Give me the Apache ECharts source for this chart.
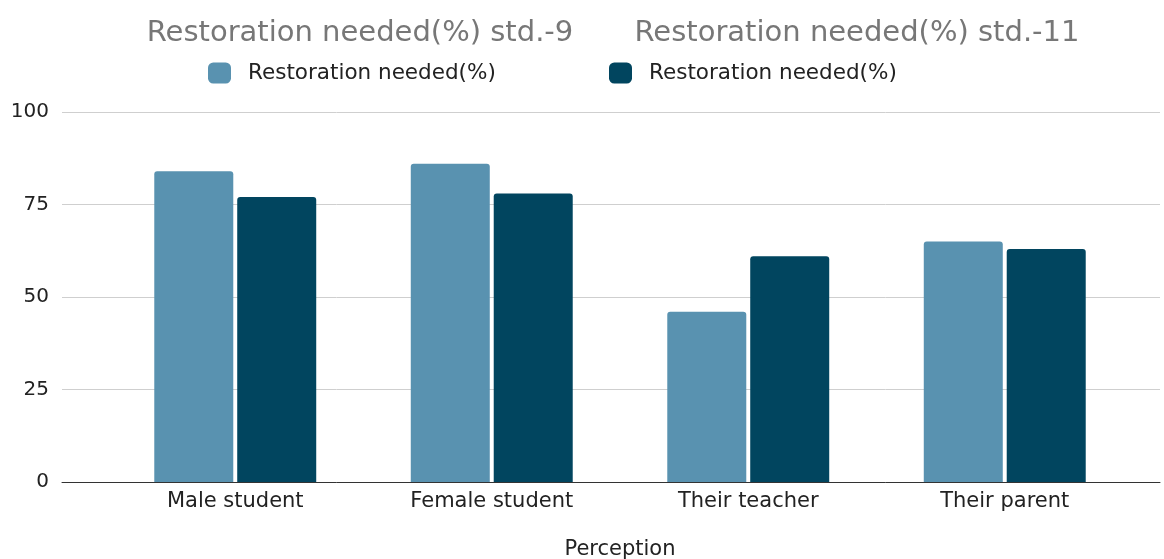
<!DOCTYPE html>
<html><head><meta charset="utf-8">
<script src="https://cdn.jsdelivr.net/npm/echarts@6/dist/echarts.min.js"></script>
<style>html,body{margin:0;padding:0;background:#fff}#c{width:1164px;height:559px}</style>
</head><body><div id="c"></div>
<script>
const categories = ['Male student', 'Female student', 'Their teacher', 'Their parent'];
const std9 = [84, 86, 46, 65];
const std11 = [77, 78, 61, 63];
const yTicks = [0, 25, 50, 75, 100];
const titles = ['Restoration needed(%) std.-9', 'Restoration needed(%) std.-11'];
const seriesNames = ['Restoration needed(%)', 'Restoration needed(%) '];
const axisName = 'Perception';

const FONT = 'DejaVu Sans';
const chart = echarts.init(document.getElementById('c'), null, {renderer: 'canvas'});
chart.setOption({
  animation: false,
  backgroundColor: '#fff',
  title: [
    {text: titles[0], left: 355, top: 14, textAlign: 'center',
     textStyle: {fontFamily: FONT, fontSize: 29, fontWeight: 'normal', color: '#777'}},
    {text: titles[1], left: 852, top: 14, textAlign: 'center',
     textStyle: {fontFamily: FONT, fontSize: 29, fontWeight: 'normal', color: '#777'}}
  ],
  legend: [
    {data: [seriesNames[0]], left: 203, top: 57, itemWidth: 23, itemHeight: 21,
     icon: 'roundRect',
     textStyle: {fontFamily: FONT, fontSize: 21.5, color: '#222', padding: [0, 0, 0, 12]}},
    {data: [seriesNames[1]], left: 604, top: 57, itemWidth: 23, itemHeight: 21,
     icon: 'roundRect',
     textStyle: {fontFamily: FONT, fontSize: 21.5, color: '#222', padding: [0, 0, 0, 12]}}
  ],
  grid: [
    {left: 62, right: 4, top: 112, bottom: 77, containLabel: false, outerBoundsMode: 'none'},
    {left: 107, right: 31, top: 112, bottom: 77, containLabel: false, outerBoundsMode: 'none'}
  ],
  xAxis: [
    {gridIndex: 0, type: 'value', min: 0, max: 1,
     axisLine: {show: true, lineStyle: {color: '#333', width: 1}},
     axisTick: {show: false}, axisLabel: {show: false}, splitLine: {show: false}},
    {gridIndex: 1, type: 'category', data: categories,
     axisLine: {show: false}, axisTick: {show: false},
     axisLabel: {fontFamily: FONT, fontSize: 21, color: '#222', margin: 9},
     name: axisName, nameLocation: 'middle', nameGap: 57,
     nameTextStyle: {fontFamily: FONT, fontSize: 21, color: '#222'}}
  ],
  yAxis: [
    {gridIndex: 0, type: 'value', min: yTicks[0], max: yTicks[yTicks.length - 1], interval: 25,
     axisLine: {show: false}, axisTick: {show: false},
     axisLabel: {fontFamily: FONT, fontSize: 20, color: '#222', margin: 13},
     splitLine: {lineStyle: {color: '#cfcfcf', width: 1}}},
    {gridIndex: 1, type: 'value', min: 0, max: 100, show: false}
  ],
  series: [
    {name: seriesNames[0], type: 'bar', xAxisIndex: 1, yAxisIndex: 1, data: std9,
     barWidth: 79, barGap: '5%', itemStyle: {color: '#5992b0', borderWidth: 0, borderRadius: [3, 3, 0, 0]}},
    {name: seriesNames[1], type: 'bar', xAxisIndex: 1, yAxisIndex: 1, data: std11,
     barWidth: 79, barGap: '5%', itemStyle: {color: '#01455f', borderWidth: 0, borderRadius: [3, 3, 0, 0]}}
  ]
});
</script></body></html>
